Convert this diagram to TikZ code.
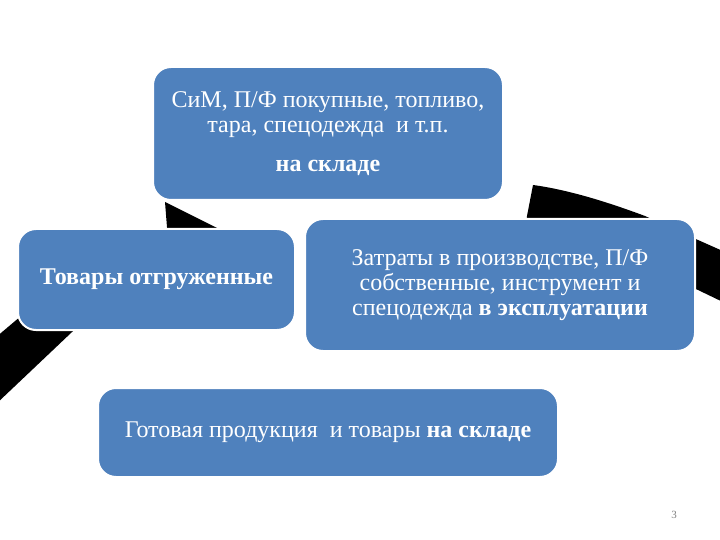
\documentclass[tikz,border=0pt]{standalone}
\usepackage{fontspec}
\setmainfont{Liberation Serif}
\definecolor{boxblue}{HTML}{4F81BD}
\tikzset{
  box/.style={fill=boxblue, draw=white, line width=2pt, rounded corners=18pt,
    text=white, align=center, inner sep=0pt, font=\fontsize{24}{25}\selectfont},
  band/.style={fill=black, draw=none}
}
\begin{document}
\begin{tikzpicture}[x=1pt,y=-1pt]
\useasboundingbox[fill=white] (0,0) rectangle (720,540);
% black fragments of the circular arrows
\path[band] (-5,338) -- (40,300) -- (110,296) -- (-5,405) -- cycle;
\path[band] (165,202) -- (225,232) -- (168,240) -- cycle;
\path[band] (533,185) .. controls (570,190) and (610,203) .. (645,216)
  -- (698,240) -- (725,252) -- (725,303) -- (698,290) -- (600,250) -- (525,232) -- (527,216) -- cycle;
% boxes
\node[box, minimum width=350pt, minimum height=133pt] (top) at (328,133.5)
  {СиМ, П/Ф покупные, топливо,\\ тара, спецодежда\ \ и т.п.\\[14pt] \textbf{на складе}};
\node[box, minimum width=277pt, minimum height=101pt] (left) at (156.5,279.5)
  {\textbf{Товары отгруженные}};
\node[box, minimum width=390pt, minimum height=132pt] (right) at (500,285)
  {Затраты в производстве, П/Ф\\ собственные, инструмент и\\ спецодежда \textbf{в эксплуатации}};
\node[box, minimum width=460pt, minimum height=89pt] (bottom) at (328,432.5)
  {Готовая продукция\ \ и товары \textbf{на складе}};
\node[text=gray, font=\fontsize{11}{12}\selectfont] (pg) at (674,515) {3};
\end{tikzpicture}
\end{document}
